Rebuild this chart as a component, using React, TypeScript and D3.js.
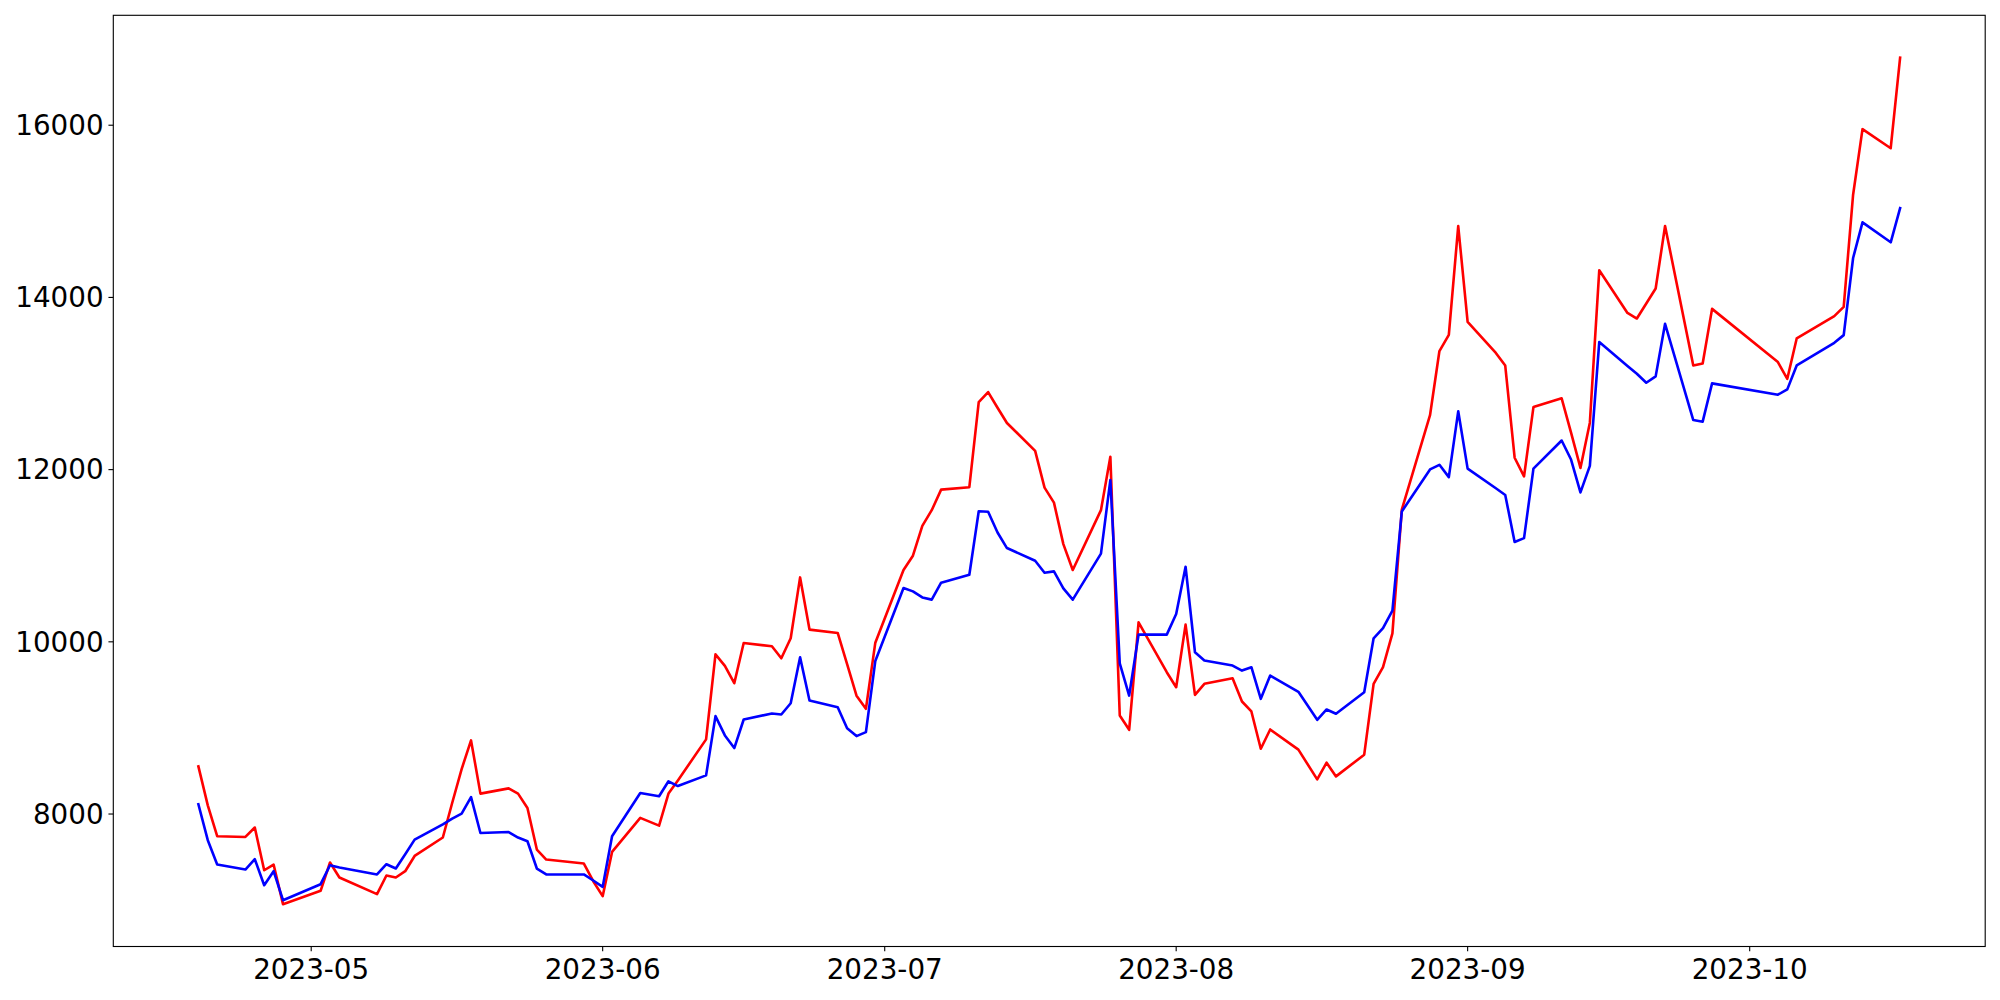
import React from "react";
import * as d3 from "d3";

const dates: string[] = [
  "2023-04-19","2023-04-20","2023-04-21","2023-04-24","2023-04-25","2023-04-26","2023-04-27","2023-04-28",
  "2023-05-02","2023-05-03","2023-05-04","2023-05-08","2023-05-09","2023-05-10","2023-05-11","2023-05-12",
  "2023-05-15","2023-05-16","2023-05-17","2023-05-18","2023-05-19","2023-05-22","2023-05-23","2023-05-24",
  "2023-05-25","2023-05-26","2023-05-30","2023-05-31","2023-06-01","2023-06-02","2023-06-05","2023-06-07",
  "2023-06-08","2023-06-09","2023-06-12","2023-06-13","2023-06-14","2023-06-15","2023-06-16","2023-06-19",
  "2023-06-20","2023-06-21","2023-06-22","2023-06-23","2023-06-26","2023-06-27","2023-06-28","2023-06-29",
  "2023-06-30","2023-07-03","2023-07-04","2023-07-05","2023-07-06","2023-07-07","2023-07-10","2023-07-11",
  "2023-07-12","2023-07-13","2023-07-14","2023-07-17","2023-07-18","2023-07-19","2023-07-20","2023-07-21",
  "2023-07-24","2023-07-25","2023-07-26","2023-07-27","2023-07-28","2023-07-31","2023-08-01","2023-08-02",
  "2023-08-03","2023-08-04","2023-08-07","2023-08-08","2023-08-09","2023-08-10","2023-08-11","2023-08-14",
  "2023-08-16","2023-08-17","2023-08-18","2023-08-21","2023-08-22","2023-08-23","2023-08-24","2023-08-25",
  "2023-08-28","2023-08-29","2023-08-30","2023-08-31","2023-09-01","2023-09-04","2023-09-05","2023-09-06",
  "2023-09-07","2023-09-08","2023-09-11","2023-09-12","2023-09-13","2023-09-14","2023-09-15","2023-09-18",
  "2023-09-19","2023-09-20","2023-09-21","2023-09-22","2023-09-25","2023-09-26","2023-09-27","2023-10-04",
  "2023-10-05","2023-10-06","2023-10-10","2023-10-11","2023-10-12","2023-10-13","2023-10-16","2023-10-17",
];

const redValues: number[] = [
  8553, 8101, 7742, 7734, 7843, 7347, 7413, 6953,
  7108, 7437, 7263, 7069, 7286, 7263, 7336, 7513,
  7727, 8131, 8522, 8855, 8237, 8298, 8237, 8071,
  7587, 7471, 7425, 7220, 7046, 7560, 7955, 7865,
  8237, 8390, 8867, 9855, 9720, 9519, 9987, 9948,
  9809, 10041, 10748, 10142, 10103, 9740, 9375, 9222,
  9990, 10834, 11000, 11347, 11529, 11768, 11796, 12785,
  12901, 12719, 12542, 12217, 11791, 11617, 11135, 10834,
  11529, 12150, 9144, 8978, 10226, 9647, 9473, 10200,
  9384, 9512, 9577, 9307, 9191, 8758, 8982, 8748,
  8402, 8596, 8437, 8689, 9512, 9705, 10097, 11536,
  12632, 13377, 13564, 14829, 13715, 13355, 13209, 12138,
  11922, 12726, 12828, 12430, 12020, 12545, 14315, 13820,
  13755, 13930, 14103, 14830, 13210, 13233, 13867, 13249,
  13055, 13523, 13782, 13890, 15193, 15954, 15733, 16785,
];

const blueValues: number[] = [
  8113, 7696, 7413, 7355, 7475, 7173, 7336, 6999,
  7185, 7405, 7380, 7298, 7417, 7367, 7533, 7703,
  7880, 7947, 8005, 8197, 7780, 7791, 7727, 7684,
  7367, 7298, 7298, 7228, 7154, 7742, 8244, 8206,
  8380, 8325, 8449, 9137, 8913, 8766, 9098, 9168,
  9156, 9287, 9820, 9318, 9241, 8997, 8905, 8951,
  9778, 10625, 10586, 10516, 10490, 10687, 10779, 11517,
  11510, 11270, 11089, 10942, 10802, 10818, 10620, 10490,
  11024, 11880, 9751, 9376, 10084, 10084, 10323, 10872,
  9879, 9782, 9724, 9666, 9705, 9338, 9608, 9420,
  9094, 9214, 9164, 9415, 10041, 10159, 10362, 11514,
  12002, 12056, 11913, 12677, 12012, 11784, 11706, 11160,
  11204, 12012, 12338, 12117, 11735, 12043, 13481, 13203,
  13113, 13009, 13083, 13693, 12576, 12557, 13002, 12870,
  12932, 13210, 13473, 13562, 14458, 14872, 14640, 15038,
];

const yTickValues: number[] = [8000, 10000, 12000, 14000, 16000];

const W = 2000;
const H = 1000;
const M = { left: 113.3, right: 1985.2, top: 15.3, bottom: 946.5 };
const FONT = "'DejaVu Sans', sans-serif";
const FS = 27.78;
const TICK = 4.86;
const LW = 2.6;

export default function App() {
  const parse = d3.utcParse("%Y-%m-%d");
  const xs = dates.map((d) => parse(d) as Date);
  const t0 = xs[0].getTime();
  const t1 = xs[xs.length - 1].getTime();
  const padT = (t1 - t0) * 0.05;
  const x = d3
    .scaleUtc()
    .domain([new Date(t0 - padT), new Date(t1 + padT)])
    .range([M.left, M.right]);

  const all = redValues.concat(blueValues);
  const lo = d3.min(all) as number;
  const hi = d3.max(all) as number;
  const padV = (hi - lo) * 0.05;
  const y = d3.scaleLinear().domain([lo - padV, hi + padV]).range([M.bottom, M.top]);

  const line = d3
    .line<number>()
    .x((_, i) => x(xs[i]))
    .y((v) => y(v));

  const xTicks = x.ticks(d3.utcMonth.every(1) as any);
  const fmt = d3.utcFormat("%Y-%m");

  return (
    <div style={{ position: "fixed", left: 0, top: 0, width: W, height: H, background: "#fff" }}>
      <svg width={W} height={H} viewBox={`0 0 ${W} ${H}`} style={{ display: "block" }}>
        <rect x={0} y={0} width={W} height={H} fill="#ffffff" />
        <path d={line(redValues) || ""} fill="none" stroke="#ff0000" strokeWidth={LW} strokeLinejoin="round" strokeLinecap="square" />
        <path d={line(blueValues) || ""} fill="none" stroke="#0000ff" strokeWidth={LW} strokeLinejoin="round" strokeLinecap="square" />
        <rect
          x={M.left}
          y={M.top}
          width={M.right - M.left}
          height={M.bottom - M.top}
          fill="none"
          stroke="#000"
          strokeWidth={1.11}
        />
        {xTicks.map((t, i) => (
          <g key={"x" + i}>
            <line x1={x(t)} x2={x(t)} y1={M.bottom} y2={M.bottom + TICK} stroke="#000" strokeWidth={1.11} />
            <text
              x={x(t)}
              y={979.3}
              textAnchor="middle"
              fontFamily={FONT}
              fontSize={FS}
              fill="#000"
            >
              {fmt(t)}
            </text>
          </g>
        ))}
        {yTickValues.map((v, i) => (
          <g key={"y" + i}>
            <line x1={M.left - TICK} x2={M.left} y1={y(v)} y2={y(v)} stroke="#000" strokeWidth={1.11} />
            <text
              x={M.left - TICK - 4.86}
              y={y(v)}
              dy="0.35em"
              textAnchor="end"
              fontFamily={FONT}
              fontSize={FS}
              fill="#000"
            >
              {String(v)}
            </text>
          </g>
        ))}
      </svg>
    </div>
  );
}
